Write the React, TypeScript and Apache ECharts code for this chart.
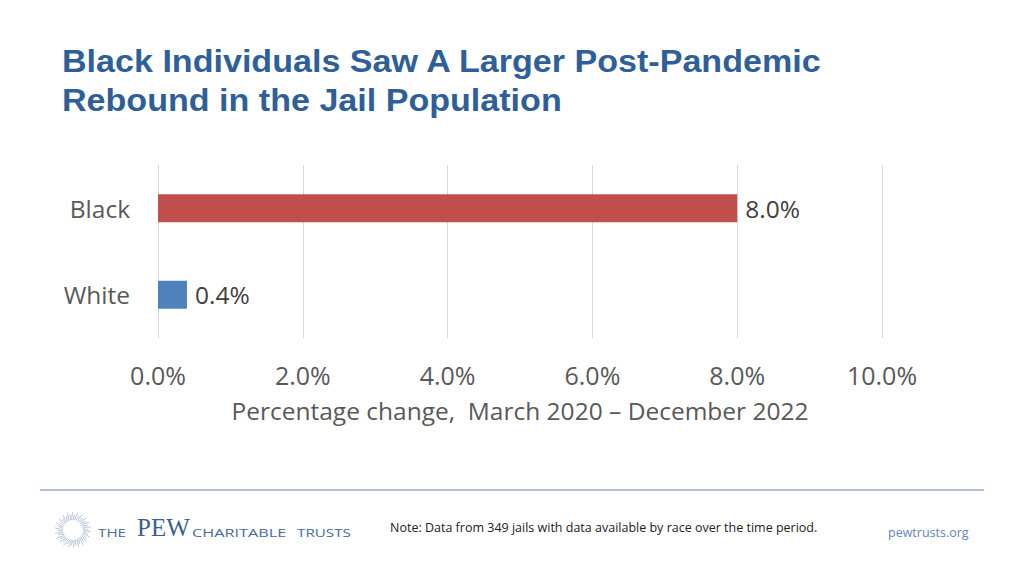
import React, { useEffect, useRef } from "react";
import * as echarts from "echarts";

const categories = ["Black", "White"];
const values = [8.0, 0.4];
const barColors = ["#C0504D", "#4F81BD"];
const xTicks = { min: 0, max: 10, interval: 2 };
const titleLines = ["Black Individuals Saw A Larger Post-Pandemic", "Rebound in the Jail Population"];
const axisName = "Percentage change,  March 2020 \u2013 December 2022";
const noteText = "Note: Data from 349 jails with data available by race over the time period.";

const FONT = "'Open Sans', 'Noto Sans', sans-serif";

function sunburst(cx: number, cy: number) {
  const rays: any[] = [];
  const n = 44;
  for (let i = 0; i < n; i++) {
    const a = (i / n) * Math.PI * 2;
    const r0 = 10;
    const r1 = i % 2 === 0 ? 18 : 15.5;
    rays.push({
      type: "line",
      silent: true,
      shape: {
        x1: cx + Math.cos(a) * r0,
        y1: cy + Math.sin(a) * r0,
        x2: cx + Math.cos(a + 0.12) * r1,
        y2: cy + Math.sin(a + 0.12) * r1,
      },
      style: { stroke: "#A7B6CE", lineWidth: 0.8 },
    });
  }
  return rays;
}

export default function App() {
  const ref = useRef<HTMLDivElement>(null);
  useEffect(() => {
    if (!ref.current) return;
    const chart = echarts.init(ref.current, undefined, { renderer: "svg" });
    chart.setOption({
      animation: false,
      backgroundColor: "#ffffff",
      grid: { left: 158, right: 142, top: 165, bottom: 238, containLabel: false },
      xAxis: {
        type: "value",
        min: xTicks.min,
        max: xTicks.max,
        interval: xTicks.interval,
        axisLine: { show: false },
        axisTick: { show: false },
        splitLine: { show: true, lineStyle: { color: "#D9D9D9", width: 1 } },
        axisLabel: {
          formatter: (v: number) => v.toFixed(1) + "%",
          color: "#595959",
          fontFamily: FONT,
          fontSize: 25,
          margin: 24,
        },
        name: axisName,
        nameLocation: "middle",
        nameGap: 60,
        nameTextStyle: { color: "#595959", fontFamily: FONT, fontSize: 24.5 },
      },
      yAxis: {
        type: "category",
        data: categories,
        inverse: true,
        axisLine: { show: false },
        axisTick: { show: false },
        splitLine: { show: false },
        axisLabel: {
          color: "#595959",
          fontFamily: FONT,
          fontSize: 24.5,
          margin: 28,
          padding: [0, 0, 4, 0],
        },
      },
      series: [
        {
          type: "bar",
          barWidth: 28,
          data: values.map((v, i) => ({ value: v, itemStyle: { color: barColors[i] } })),
          label: {
            show: true,
            position: "right",
            distance: 8,
            formatter: (p: any) => p.value.toFixed(1) + "%",
            color: "#404040",
            fontFamily: FONT,
            fontSize: 24.5,
            padding: [4, 0, 0, 0],
          },
        },
      ],
      graphic: [
        {
          type: "text",
          x: 62,
          y: 41,
          scaleX: 1.065,
          style: {
            text: titleLines.join("\n"),
            fill: "#2F5F98",
            fontFamily: "'Liberation Sans', Arial, sans-serif",
            fontWeight: "bold",
            fontSize: 32,
            lineHeight: 39,
          },
        },
        {
          type: "line",
          shape: { x1: 40, y1: 490, x2: 984, y2: 490 },
          style: { stroke: "#9AAACB", lineWidth: 1.5 },
        },
        ...sunburst(73, 530),
        {
          type: "text",
          x: 98,
          y: 533,
          scaleX: 1.45,
          style: {
            text: "THE",
            fill: "#4A6A98",
            fontFamily: FONT,
            fontSize: 10.5,
            verticalAlign: "middle",
          },
        },
        {
          type: "text",
          x: 137,
          y: 527,
          style: {
            text: "PEW",
            fill: "#3C5F8F",
            fontFamily: "'Liberation Serif', serif",
            fontSize: 25,
            verticalAlign: "middle",
          },
        },
        {
          type: "text",
          x: 192,
          y: 533,
          scaleX: 1.55,
          style: {
            text: "CHARITABLE",
            fill: "#4A6A98",
            fontFamily: FONT,
            fontSize: 10.5,
            verticalAlign: "middle",
          },
        },
        {
          type: "text",
          x: 297,
          y: 533,
          scaleX: 1.45,
          style: {
            text: "TRUSTS",
            fill: "#4A6A98",
            fontFamily: FONT,
            fontSize: 10.5,
            verticalAlign: "middle",
          },
        },
        {
          type: "text",
          x: 390,
          y: 527,
          style: {
            text: noteText,
            fill: "#222222",
            fontFamily: FONT,
            fontSize: 12.5,
            verticalAlign: "middle",
          },
        },
        {
          type: "text",
          x: 888,
          y: 532,
          style: {
            text: "pewtrusts.org",
            fill: "#6684B8",
            fontFamily: FONT,
            fontSize: 12.5,
            verticalAlign: "middle",
          },
        },
      ],
    });
    return () => chart.dispose();
  }, []);
  return (
    <div
      ref={ref}
      style={{ position: "fixed", left: 0, top: 0, width: 1024, height: 576, background: "#fff" }}
    />
  );
}
